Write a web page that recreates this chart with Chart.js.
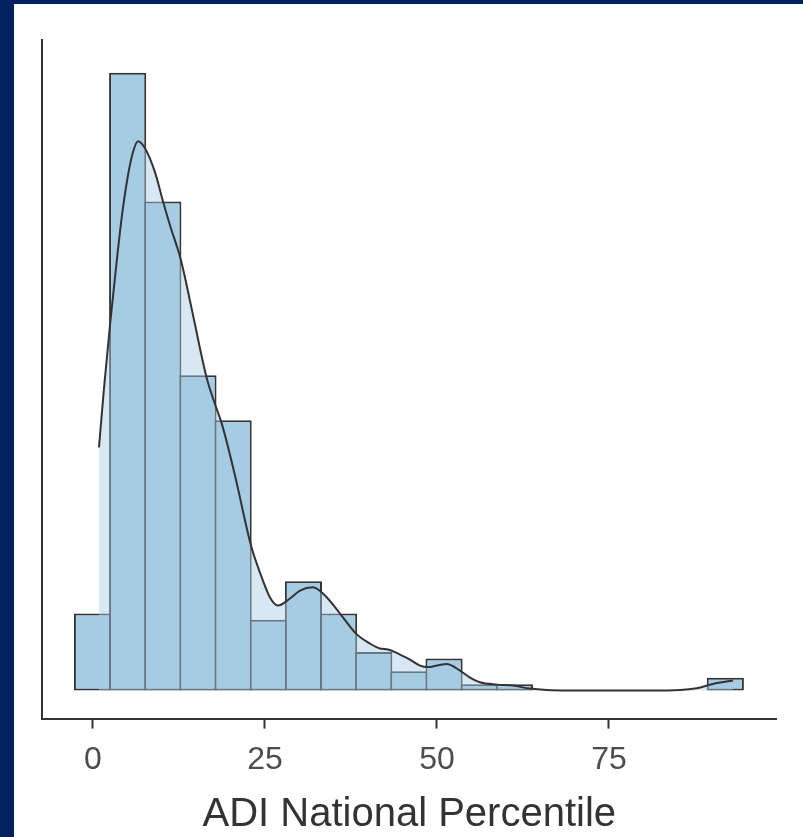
<!DOCTYPE html>
<html>
<head>
<meta charset="utf-8">
<script src="https://cdn.jsdelivr.net/npm/chart.js@4.4.1/dist/chart.umd.min.js"></script>
<style>
  html, body { margin: 0; padding: 0; background: #00205f; }
  #panel { position: absolute; left: 14px; top: 4px; width: 789px; height: 833px; background: #ffffff; }
  canvas { display: block; }
</style>
</head>
<body>
<div id="panel"><canvas id="c" width="789" height="833"></canvas></div>
<script>
// Histogram bins (centres, in ADI percentile units) and counts
const binCenters = [-0.07, 5.04, 10.15, 15.26, 20.37, 25.48, 30.59, 35.70, 40.81, 45.92,
                    51.03, 56.14, 61.25, 66.36, 71.47, 76.58, 81.69, 86.80, 91.91];
const binCounts  = [12, 96, 76, 49, 42, 11, 17, 12, 6, 3, 5, 1, 1, 0, 0, 0, 0, 0, 2];

// Density curve (scaled to counts)
const kdeX = [0.87, 1.60, 2.47, 3.34, 4.22, 5.09, 5.81, 6.54, 7.56, 9.01, 10.17, 11.19, 12.79, 14.39,
              16.53, 17.88, 18.75, 20.64, 22.97, 24.27, 25.73, 26.89, 28.63, 30.09, 31.98, 33.72,
              35.90, 38.23, 40.26, 41.72, 42.88, 44.62, 46.08, 47.53, 48.69, 50.00, 51.41, 53.34,
              54.80, 56.25, 58.72, 61.05, 63.52, 65.94, 73.69, 80.96, 85.32, 87.75, 90.12, 93.02];
const kdeY = [37.79, 46.97, 56.77, 65.63, 73.87, 80.09, 83.67, 85.38, 84.29, 80.56, 76.05, 72.32, 66.87, 59.10,
              48.57, 44.06, 41.37, 33.44, 22.55, 18.35, 14.46, 13.22, 14.31, 15.55, 16.07, 14.77,
              11.98, 8.86, 7.31, 6.53, 6.38, 5.60, 4.82, 3.89, 3.65, 3.89, 4.12, 3.11,
              2.02, 1.29, 0.93, 0.78, 0.31, 0.11, 0.00, 0.00, 0.08, 0.36, 1.04, 1.56];

const xTicks = [0, 25, 50, 75];
const xTitle = 'ADI National Percentile';

const barData = binCenters.map((x, i) => ({ x: x, y: binCounts[i] }));
const kdeData = kdeX.map((x, i) => ({ x: x, y: kdeY[i] }));

new Chart(document.getElementById('c'), {
  type: 'bar',
  data: {
    datasets: [
      {
        type: 'line',
        data: kdeData,
        order: 0,
        borderColor: '#333333',
        borderWidth: 2,
        backgroundColor: 'rgba(166,205,227,0.45)',
        fill: 'origin',
        pointRadius: 0,
        cubicInterpolationMode: 'monotone'
      },
      {
        type: 'bar',
        data: barData,
        order: 1,
        backgroundColor: '#a6cce4',
        borderColor: '#333333',
        borderWidth: 2,
        borderSkipped: false,
        barPercentage: 1.057,
        categoryPercentage: 1.0
      }
    ]
  },
  options: {
    responsive: false,
    animation: false,
    devicePixelRatio: 1,
    layout: { padding: { left: 28, right: 26.5, top: 36, bottom: -2 } },
    plugins: { legend: { display: false }, tooltip: { enabled: false } },
    scales: {
      x: {
        type: 'linear',
        min: -7.41,
        max: 99.35,
        offset: false,
        afterBuildTicks: (scale) => { scale.ticks = xTicks.map(v => ({ value: v })); },
        grid: { display: true, offset: false, drawOnChartArea: false, drawTicks: true, tickLength: 10, tickColor: '#333333', tickWidth: 2 },
        border: { display: true, color: '#333333', width: 2 },
        ticks: { color: '#4d4d4d', font: { family: "'Liberation Sans', Arial, sans-serif", size: 32 }, padding: 12, maxRotation: 0 },
        title: { display: true, text: xTitle, color: '#333333', font: { family: "'Liberation Sans', Arial, sans-serif", size: 40 }, padding: { top: 0, bottom: 0 } }
      },
      y: {
        type: 'linear',
        min: -4.35,
        max: 101.1,
        grid: { display: false, drawTicks: false },
        border: { display: true, color: '#333333', width: 2 },
        ticks: { display: false }
      }
    }
  }
});
</script>
</body>
</html>
